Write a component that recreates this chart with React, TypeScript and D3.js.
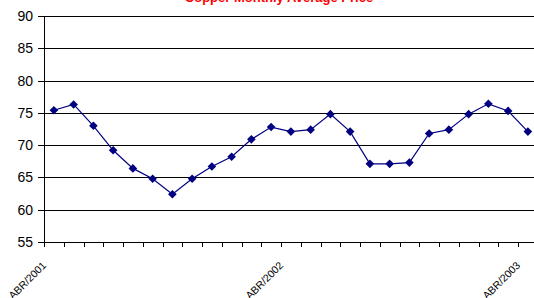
import React from "react";
import * as d3 from "d3";

const months = [
  "ABR/2001","MAY/2001","JUN/2001","JUL/2001","AGO/2001","SEP/2001","OCT/2001","NOV/2001","DIC/2001",
  "ENE/2002","FEB/2002","MAR/2002","ABR/2002","MAY/2002","JUN/2002","JUL/2002","AGO/2002","SEP/2002",
  "OCT/2002","NOV/2002","DIC/2002","ENE/2003","FEB/2003","MAR/2003","ABR/2003",
];
const prices = [
  75.4, 76.3, 73.0, 69.2, 66.4, 64.8, 62.4, 64.8, 66.7, 68.2, 70.9, 72.8,
  72.1, 72.4, 74.8, 72.1, 67.1, 67.1, 67.3, 71.8, 72.4, 74.8, 76.4, 75.3, 72.1,
];
const shownLabels = ["ABR/2001", "ABR/2002", "ABR/2003"];
const yTicks = [55, 60, 65, 70, 75, 80, 85, 90];
const title = "Copper Monthly Average Price";

const W = 534, H = 298;
const left = 44, right = 537.75, top = 16, bottom = 242;

export default function App() {
  const x = d3.scaleBand<string>().domain(months).range([left, right]).paddingInner(0).paddingOuter(0);
  const y = d3.scaleLinear().domain([55, 90]).range([bottom, top]);
  const cx = (m: string) => (x(m) as number) + x.bandwidth() / 2;
  const line = d3.line<number>().x((_, i) => cx(months[i])).y((d) => y(d));
  const tickXs = months.map((m) => x(m) as number).concat([right]);
  const diamond = (px: number, py: number) => `M${px},${py - 4.3}L${px + 4.3},${py}L${px},${py + 4.3}L${px - 4.3},${py}Z`;

  return (
    <svg width={W} height={H} style={{ position: "absolute", left: 0, top: 0, fontFamily: "Arial, 'Liberation Sans', sans-serif" }}>
      <text x={279} y={2} textAnchor="middle" fill="#ff0000" fontWeight="bold" fontSize={13}>{title}</text>
      {yTicks.map((t) => (
        <g key={t}>
          {t > 55 && <line x1={left} x2={right} y1={Math.round(y(t)) + 0.5} y2={Math.round(y(t)) + 0.5} stroke="#000" strokeWidth={1} />}
          <line x1={38} x2={left} y1={Math.round(y(t)) + 0.5} y2={Math.round(y(t)) + 0.5} stroke="#000" />
          <text x={33} y={y(t)} dy="0.36em" textAnchor="end" fontSize={14} fill="#000">{t}</text>
        </g>
      ))}
      <line x1={left + 0.5} x2={left + 0.5} y1={top} y2={bottom + 0.5} stroke="#000" />
      <line x1={left} x2={right} y1={bottom + 0.5} y2={bottom + 0.5} stroke="#000" />
      {tickXs.map((tx, i) => (
        <line key={i} x1={Math.round(tx) + 0.5} x2={Math.round(tx) + 0.5} y1={bottom} y2={bottom + 5} stroke="#000" />
      ))}
      {months.map((m) =>
        shownLabels.includes(m) ? (
          <text key={m} transform={`translate(${cx(m) - 7},${266}) rotate(-45)`} textAnchor="end" fontSize={10.5} fill="#000">{m}</text>
        ) : null
      )}
      <path d={line(prices) || ""} fill="none" stroke="#000080" strokeWidth={1.2} />
      {prices.map((p, i) => (
        <path key={i} d={diamond(cx(months[i]), y(p))} fill="#000080" />
      ))}
    </svg>
  );
}
